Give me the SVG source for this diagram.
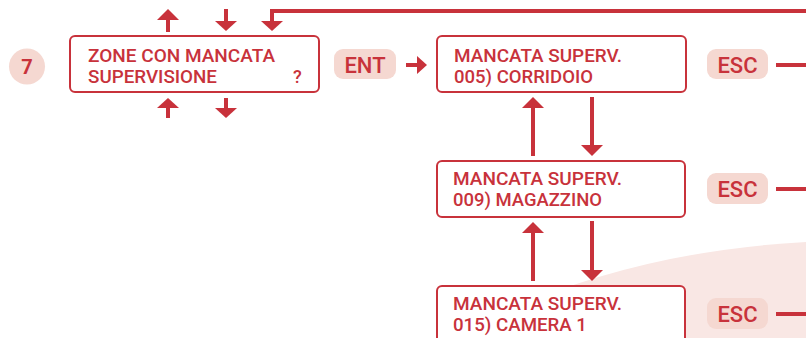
<svg xmlns="http://www.w3.org/2000/svg" width="806" height="338" viewBox="0 0 806 338">
<style>
.box{fill:#fff;stroke:#c8323b;stroke-width:2}
.t{font-family:Roboto,"Liberation Sans",Arial,sans-serif;font-weight:500;font-size:18px;fill:#c8323b}
.pill{fill:#f5d8d1}
.k{font-family:Roboto,"Liberation Sans",Arial,sans-serif;font-weight:500;font-size:22px;fill:#c8323b;text-anchor:middle}
.ln{stroke:#c8323b;stroke-width:4;fill:none}
.ah{fill:#c8323b}
</style>
<rect width="806" height="338" fill="#fff"/>
<path d="M440 345 Q600 253 806 242 L806 345 Z" fill="#f9e7e4"/>
<g id="step7">
<circle cx="27" cy="66.5" r="18" class="pill"/>
<text x="27" y="73.5" class="k" style="font-size:20px;font-weight:bold">7</text>
</g>
<g id="connectors">
<line x1="168" y1="19" x2="168" y2="32" class="ln"/>
<polygon points="157,20 179,20 168,9" class="ah"/>
<line x1="226" y1="9" x2="226" y2="22" class="ln"/>
<polygon points="215,21 237,21 226,31" class="ah"/>
<polyline points="806,11 272,11 272,22" class="ln"/>
<polygon points="261,21 283,21 272,31" class="ah"/>
<line x1="168" y1="107" x2="168" y2="118" class="ln"/>
<polygon points="157,108 179,108 168,98" class="ah"/>
<line x1="226" y1="98" x2="226" y2="109" class="ln"/>
<polygon points="215,108 237,108 226,118" class="ah"/>
<line x1="406" y1="65" x2="418" y2="65" class="ln"/>
<polygon points="417,56 417,74 427,65" class="ah"/>
<line x1="533" y1="106" x2="533" y2="156" class="ln"/>
<polygon points="522,108 544,108 533,97" class="ah"/>
<line x1="592" y1="97" x2="592" y2="147" class="ln"/>
<polygon points="581,145 603,145 592,156" class="ah"/>
<line x1="533" y1="231" x2="533" y2="281" class="ln"/>
<polygon points="522,233 544,233 533,222" class="ah"/>
<line x1="592" y1="221" x2="592" y2="271" class="ln"/>
<polygon points="581,270 603,270 592,281" class="ah"/>
<line x1="776" y1="65" x2="806" y2="65" class="ln"/>
<line x1="776" y1="189" x2="806" y2="189" class="ln"/>
<line x1="776" y1="314" x2="806" y2="314" class="ln"/>
</g>
<g id="box1">
<rect x="70" y="36" width="249" height="56" rx="5" class="box"/>
<text x="88" y="62" class="t" textLength="187" lengthAdjust="spacingAndGlyphs">ZONE CON MANCATA</text>
<text x="88" y="83" class="t" textLength="129" lengthAdjust="spacingAndGlyphs">SUPERVISIONE</text>
<text x="293" y="83" class="t">?</text>
</g>
<g id="ent">
<rect x="334" y="49" width="62" height="30" rx="9" class="pill"/>
<text x="365" y="73" class="k">ENT</text>
</g>
<g id="box2">
<rect x="437" y="36" width="249" height="56" rx="5" class="box"/>
<text x="454" y="62" class="t" textLength="168" lengthAdjust="spacingAndGlyphs">MANCATA SUPERV.</text>
<text x="454" y="83" class="t" textLength="139" lengthAdjust="spacingAndGlyphs">005) CORRIDOIO</text>
</g>
<g id="esc1">
<rect x="707" y="49" width="61" height="30" rx="9" class="pill"/>
<text x="737.5" y="73" class="k">ESC</text>
</g>
<g id="box3">
<rect x="437" y="161" width="248" height="56" rx="5" class="box"/>
<text x="453" y="185" class="t" textLength="169" lengthAdjust="spacingAndGlyphs">MANCATA SUPERV.</text>
<text x="453" y="206" class="t" textLength="149" lengthAdjust="spacingAndGlyphs">009) MAGAZZINO</text>
</g>
<g id="esc2">
<rect x="707" y="173" width="61" height="31" rx="9" class="pill"/>
<text x="737.5" y="197" class="k">ESC</text>
</g>
<g id="box4">
<rect x="437" y="286" width="248" height="60" rx="5" class="box"/>
<text x="453" y="310" class="t" textLength="169" lengthAdjust="spacingAndGlyphs">MANCATA SUPERV.</text>
<text x="453" y="331" class="t" textLength="134" lengthAdjust="spacingAndGlyphs">015) CAMERA 1</text>
</g>
<g id="esc3">
<rect x="707" y="298" width="61" height="31" rx="9" class="pill"/>
<text x="737.5" y="322" class="k">ESC</text>
</g>
</svg>
